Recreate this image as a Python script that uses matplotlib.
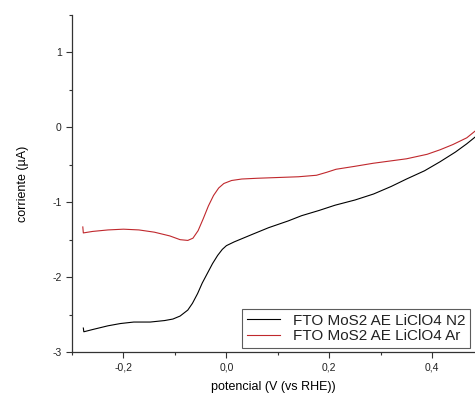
import numpy as np
import matplotlib
matplotlib.use("Agg")
import matplotlib.pyplot as plt
from matplotlib.ticker import MultipleLocator, FuncFormatter

# black curve: FTO MoS2 AE LiClO4 N2
v_n2 = [-0.278, -0.277, -0.26, -0.23, -0.206, -0.18, -0.148, -0.12, -0.104,
        -0.09, -0.075, -0.066, -0.056, -0.047, -0.037, -0.027, -0.017, -0.008,
        0.0, 0.015, 0.05, 0.082, 0.12, 0.146, 0.18, 0.211, 0.25, 0.286, 0.32,
        0.35, 0.385, 0.415, 0.445, 0.467, 0.485]
i_n2 = [-2.68, -2.73, -2.70, -2.65, -2.62, -2.60, -2.60, -2.58, -2.56,
        -2.52, -2.44, -2.35, -2.22, -2.08, -1.95, -1.82, -1.71, -1.63,
        -1.58, -1.53, -1.43, -1.34, -1.25, -1.18, -1.11, -1.04, -0.97, -0.89, -0.79,
        -0.69, -0.58, -0.46, -0.33, -0.22, -0.12]

# red curve: FTO MoS2 AE LiClO4 Ar
v_ar = [-0.279, -0.278, -0.26, -0.23, -0.20, -0.17, -0.14, -0.11, -0.09,
        -0.075, -0.065, -0.055, -0.045, -0.035, -0.025, -0.015, -0.005, 0.01,
        0.03, 0.06, 0.10, 0.14, 0.175, 0.195, 0.213, 0.25, 0.285, 0.35, 0.39,
        0.415, 0.44, 0.467, 0.485]
i_ar = [-1.33, -1.41, -1.39, -1.37, -1.36, -1.37, -1.40, -1.45, -1.50,
        -1.51, -1.48, -1.38, -1.22, -1.05, -0.91, -0.81, -0.75, -0.71,
        -0.69, -0.68, -0.67, -0.66, -0.64, -0.60, -0.56, -0.52, -0.48, -0.42, -0.36,
        -0.30, -0.23, -0.14, -0.04]

labels = ["FTO MoS2 AE LiClO4 N2", "FTO MoS2 AE LiClO4 Ar"]

plt.rcParams["font.family"] = ["Liberation Sans", "DejaVu Sans"]

fig = plt.figure(figsize=(4.75, 3.99), dpi=100)
ax = fig.add_axes([72 / 475, 47 / 399, 1 - 72 / 475, (352 - 15) / 399])

ax.plot(v_n2, i_n2, color="black", lw=0.8, label=labels[0])
ax.plot(v_ar, i_ar, color="#c0282d", lw=0.8, label=labels[1])

ax.set_xlim(-0.3, 0.483)
ax.set_ylim(-3, 1.5)
ax.spines["top"].set_visible(False)
ax.spines["right"].set_visible(False)
for s in ("left", "bottom"):
    ax.spines[s].set_color("#333333")
    ax.spines[s].set_linewidth(0.9)

ax.xaxis.set_major_locator(MultipleLocator(0.2))
ax.xaxis.set_minor_locator(MultipleLocator(0.1))
ax.yaxis.set_major_locator(MultipleLocator(1))
ax.yaxis.set_minor_locator(MultipleLocator(0.5))
comma = FuncFormatter(lambda x, p: f"{x:.1f}".replace(".", ","))
ax.xaxis.set_major_formatter(comma)
ax.yaxis.set_major_formatter(FuncFormatter(lambda y, p: f"{y:.0f}"))
ax.tick_params(which="major", direction="out", length=4, width=0.8,
               labelsize=7.5, color="#333333", labelcolor="#222222")
ax.tick_params(which="minor", direction="out", length=2.5, width=0.8,
               color="#333333")

ax.set_xlabel("potencial (V (vs RHE))", fontsize=9, labelpad=6)
ax.set_ylabel("corriente (µA)", fontsize=9, labelpad=17)

leg = ax.legend(loc="upper left", bbox_to_anchor=((242 - 72) / 475 / (1 - 72 / 475),
                (352 - 309) / 337), fontsize=11, frameon=True, fancybox=False,
                handlelength=2.2, borderpad=0.3, labelspacing=0.1,
                handletextpad=0.85, borderaxespad=0)
leg.get_frame().set_edgecolor("#333333")
leg.get_frame().set_linewidth(0.8)
for t in leg.get_texts():
    t.set_color("#222222")

fig.savefig("out.png", dpi=100)
